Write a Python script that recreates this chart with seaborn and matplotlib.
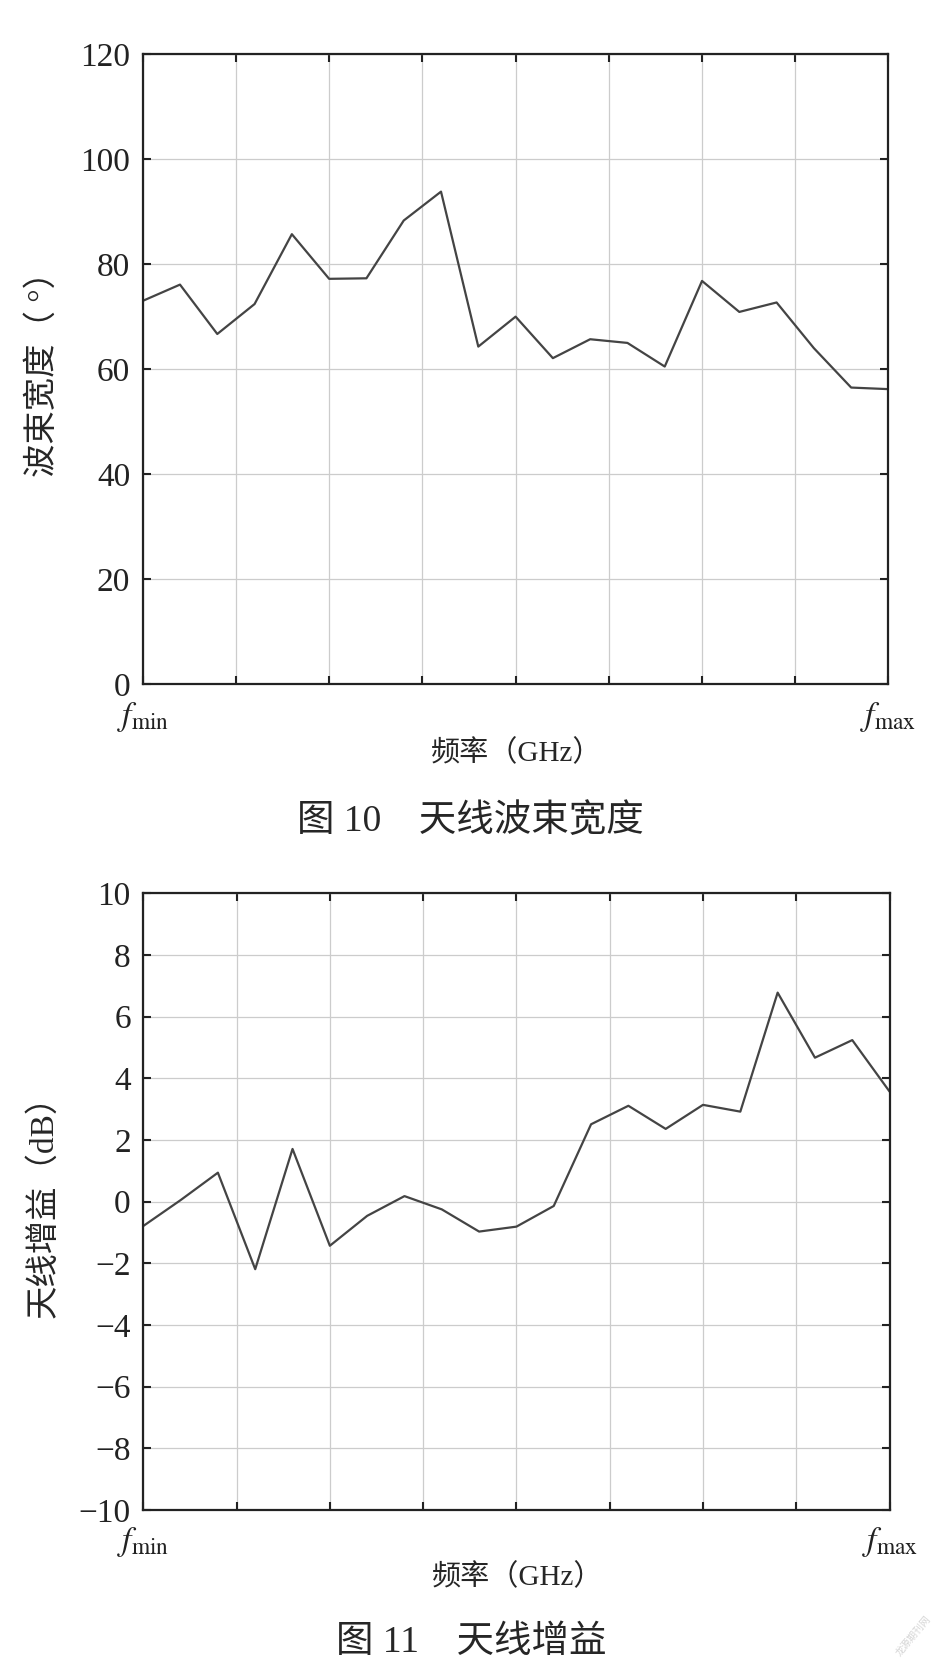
import matplotlib
matplotlib.use("Agg")
import matplotlib.pyplot as plt
import seaborn as sns

# data (21 frequency samples between f_min and f_max)
freq_idx = [0, 1, 2, 3, 4, 5, 6, 7, 8, 9, 10, 11, 12, 13, 14, 15, 16, 17, 18, 19, 20]
beamwidth = [73.0, 76.1, 66.7, 72.4, 85.7, 77.2, 77.3, 88.3, 93.8, 64.3, 70.0,
             62.1, 65.7, 65.0, 60.5, 76.8, 70.9, 72.7, 64.0, 56.5, 56.2]
gain_db = [-0.79, 0.05, 0.94, -2.19, 1.71, -1.43, -0.46, 0.18, -0.25, -0.97, -0.81,
           -0.14, 2.51, 3.11, 2.36, 3.14, 2.92, 6.78, 4.67, 5.24, 3.57]

xtick_pos = [0, 2.5, 5, 7.5, 10, 12.5, 15, 17.5, 20]
xtick_labels = [r"$f_{\mathrm{min}}$", "", "", "", "", "", "", "", r"$f_{\mathrm{max}}$"]
bw_ticks = [0, 20, 40, 60, 80, 100, 120]
gain_ticks = [-10, -8, -6, -4, -2, 0, 2, 4, 6, 8, 10]

sns.set_theme(style="ticks")
plt.rcParams["font.family"] = ["Liberation Serif", "Noto Sans CJK SC", "DejaVu Sans"]
plt.rcParams["mathtext.fontset"] = "stix"
plt.rcParams["axes.unicode_minus"] = True

fig = plt.figure(figsize=(9.37, 16.72), dpi=100)
fig.patch.set_facecolor("white")

line_color = "#444444"
spine_color = "#222222"


def style_axes(ax, yticks, ylabel, ylab_y):
    ax.set_xlim(0, 20)
    ax.set_ylim(yticks[0], yticks[-1])
    ax.set_xticks(xtick_pos)
    ax.set_xticklabels(xtick_labels)
    ax.set_yticks(yticks)
    ax.set_yticklabels([str(t).replace("-", "\u2212") for t in yticks])
    ax.grid(True, color="#cccccc", linewidth=0.9)
    ax.set_axisbelow(True)
    for s in ax.spines.values():
        s.set_visible(True)
        s.set_color(spine_color)
        s.set_linewidth(1.6)
    ax.tick_params(axis="both", direction="in", length=6, width=1.5,
                   colors=spine_color, top=True, right=True, labelsize=24)
    ax.tick_params(axis="y", pad=9)
    ax.tick_params(axis="x", pad=11)
    ax.set_ylabel(ylabel, fontsize=24, va="center")
    ax.yaxis.set_label_coords(-0.134, ylab_y)
    ax.set_xlabel("频率（GHz）", fontsize=21, va="center")
    ax.xaxis.set_label_coords(0.502, -0.11)


# top: beam width
ax1 = fig.add_axes([0.1523, 0.5907, 0.7959, 0.3770])
sns.lineplot(x=freq_idx, y=beamwidth, ax=ax1, color=line_color, linewidth=1.6)
style_axes(ax1, bw_ticks, "波束宽度（ °）", 0.505)

# bottom: gain
ax2 = fig.add_axes([0.1529, 0.0969, 0.7965, 0.3688])
sns.lineplot(x=freq_idx, y=gain_db, ax=ax2, color=line_color, linewidth=1.6)
style_axes(ax2, gain_ticks, "天线增益（dB）", 0.505)

# captions
fig.text(0.502, 1 - 821 / 1672, "图 10\u3000天线波束宽度", ha="center", va="center", fontsize=27)
fig.text(0.503, 1 - 1643 / 1672, "图 11\u3000天线增益", ha="center", va="center", fontsize=27)

# faint watermark bottom right
fig.text(0.975, 1 - 1636 / 1672, "龙源期刊网", ha="center", va="center", fontsize=7,
         rotation=50, color="#d5d5d5", family=["Noto Sans CJK SC"])

fig.savefig("out.png", dpi=100, facecolor="white")
